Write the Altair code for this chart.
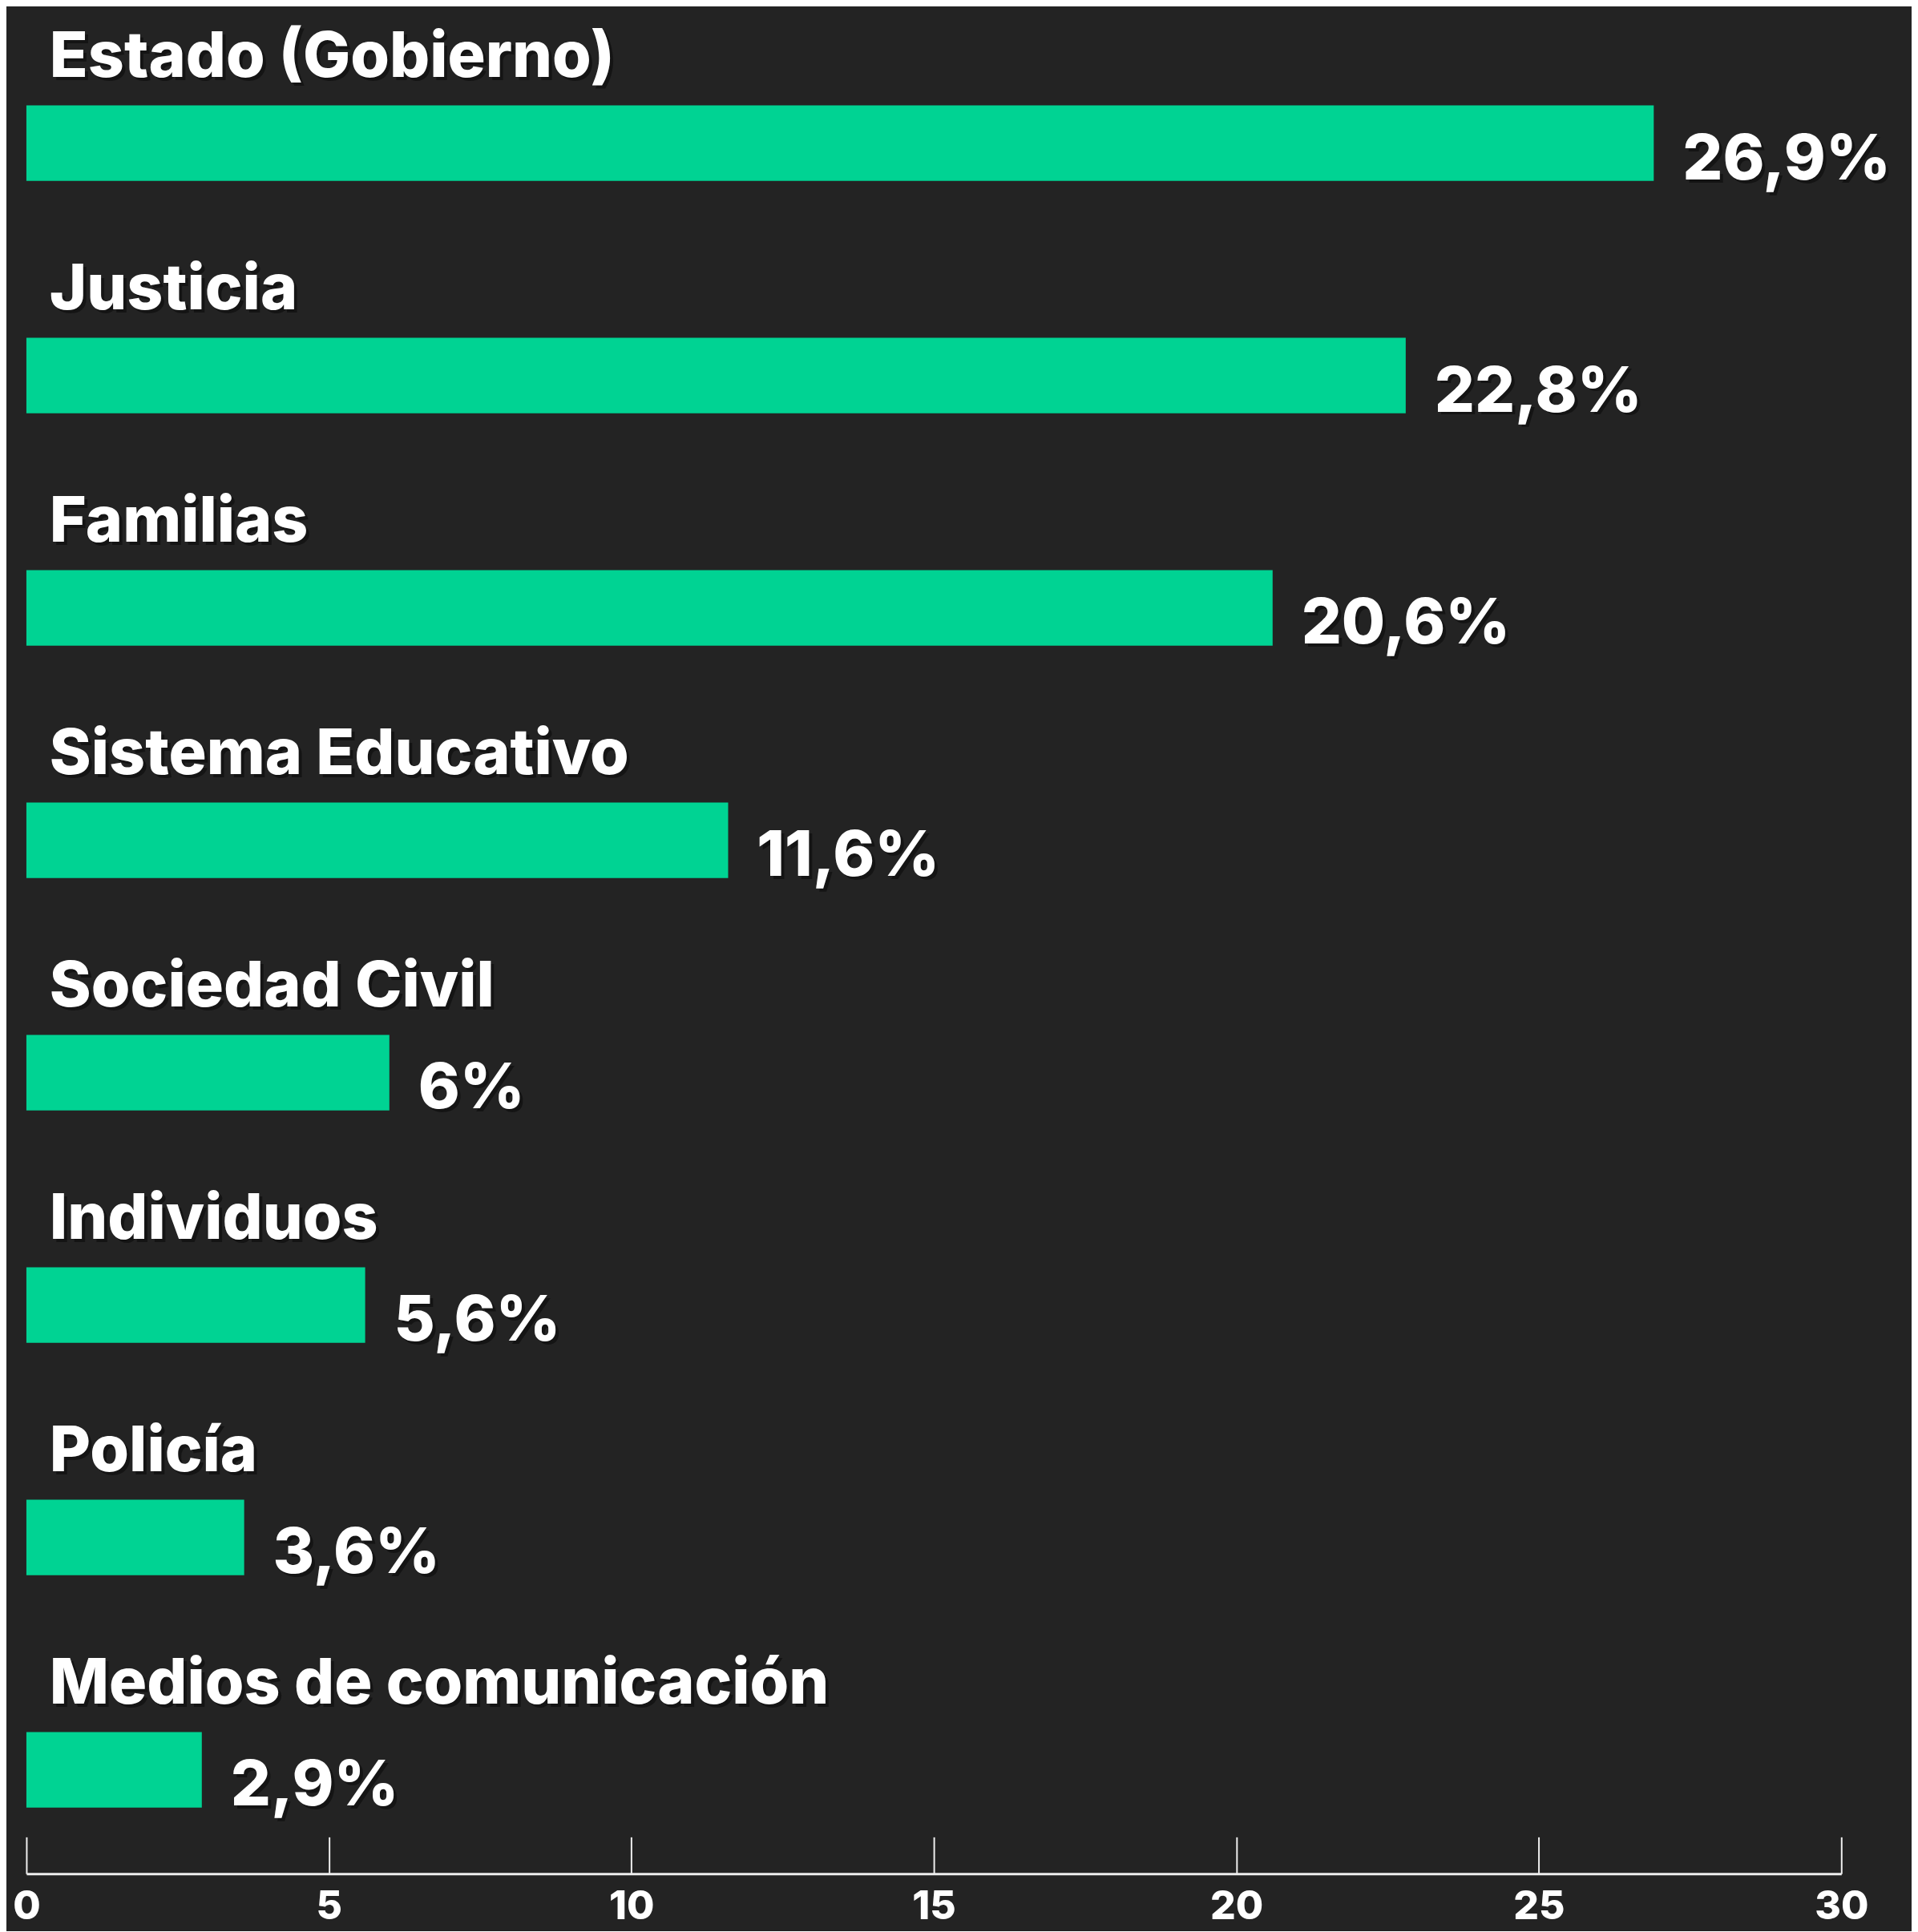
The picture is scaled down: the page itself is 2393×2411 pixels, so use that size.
import altair as alt
import pandas as pd

categories = ["Estado (Gobierno)", "Justicia", "Familias", "Sistema Educativo",
              "Sociedad Civil", "Individuos", "Policía", "Medios de comunicación"]
values = [26.9, 22.8, 20.6, 11.6, 6.0, 5.6, 3.6, 2.9]
value_labels = ["26,9%", "22,8%", "20,6%", "11,6%", "6%", "5,6%", "3,6%", "2,9%"]
x_ticks = [0, 5, 10, 15, 20, 25, 30]

df = pd.DataFrame({"cat": categories, "val": values, "lab": value_labels, "zero": 0})

W, H = 2272, 2325
BG = "#232323"
GREEN = "#00D393"
FONT = "Inter"
FS = 79

yscale = alt.Scale(domain=categories, paddingInner=0.675, paddingOuter=0.333, align=0.5725)
xscale = alt.Scale(domain=[0, 30], nice=False)

y_axis = alt.Axis(title=None, labels=False, ticks=False, domain=True,
                  domainColor="#d8d8d8", domainWidth=2, grid=False)

base = alt.Chart(df)

bars = base.mark_bar(color=GREEN, cornerRadius=0).encode(
    y=alt.Y("cat:N", scale=yscale, sort=categories, axis=y_axis),
    x=alt.X("val:Q", scale=xscale,
            axis=alt.Axis(orient="top", offset=-H, values=x_ticks, labels=False,
                          ticks=True, tickSize=46, tickWidth=2, tickColor="#eeeeee",
                          domain=True, domainColor="#eeeeee", domainWidth=3,
                          grid=False, title=None)),
)

shadow_style = dict(font=FONT, fontSize=FS, fontWeight=800, color="#000000", opacity=0.4)
text_style = dict(font=FONT, fontSize=FS, fontWeight=800, color="#ffffff")

cat_shadow = base.mark_text(align="left", baseline="alphabetic", dx=33, dy=-79, **shadow_style).encode(
    y=alt.Y("cat:N", scale=yscale, sort=categories, axis=None),
    x=alt.X("zero:Q", scale=xscale, axis=None),
    text="cat:N",
)
cat_text = base.mark_text(align="left", baseline="alphabetic", dx=29, dy=-83, **text_style).encode(
    y=alt.Y("cat:N", scale=yscale, sort=categories, axis=None),
    x=alt.X("zero:Q", scale=xscale, axis=None),
    text="cat:N",
)

val_shadow = base.mark_text(align="left", baseline="alphabetic", dx=40, dy=49, **shadow_style).encode(
    y=alt.Y("cat:N", scale=yscale, sort=categories, axis=None),
    x=alt.X("val:Q", scale=xscale, axis=None),
    text="lab:N",
)
val_text = base.mark_text(align="left", baseline="alphabetic", dx=36, dy=45, **text_style).encode(
    y=alt.Y("cat:N", scale=yscale, sort=categories, axis=None),
    x=alt.X("val:Q", scale=xscale,
            axis=alt.Axis(orient="bottom", values=x_ticks, labels=True, ticks=False,
                          domain=False, grid=False, title=None, labelFont=FONT,
                          labelFontSize=50, labelFontWeight=800, labelColor="#ffffff",
                          labelPadding=16, labelFlush=False, format="d")),
    text="lab:N",
)

chart = alt.layer(bars, cat_shadow, cat_text, val_shadow, val_text).resolve_axis(
    x="independent"
).properties(
    width=W, height=H,
    background=BG,
    autosize=alt.AutoSizeParams(type="none"),
    padding={"left": 25, "top": 9, "right": 88, "bottom": 68},
).configure_view(stroke=None)

chart.save("out.html", embed_options={"renderer": "svg", "actions": False})
